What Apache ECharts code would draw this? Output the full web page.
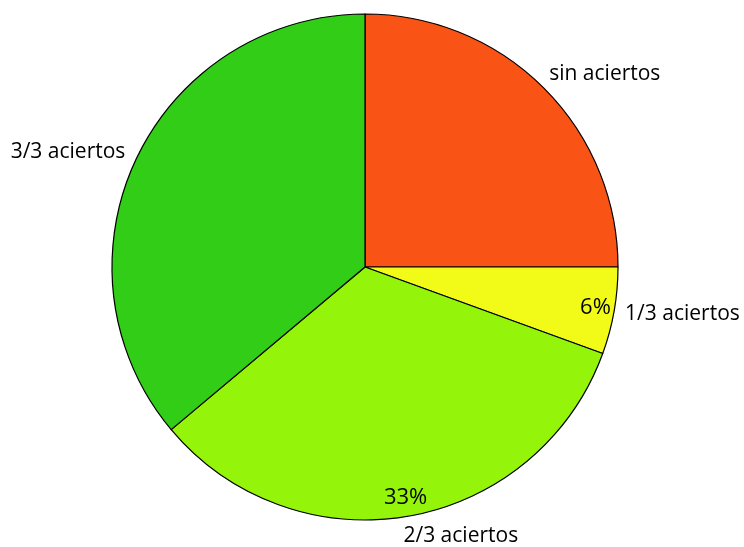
<!DOCTYPE html>
<html>
<head>
<meta charset="utf-8">
<script src="https://cdn.jsdelivr.net/npm/echarts@6/dist/echarts.min.js"></script>
<style>
html,body{margin:0;padding:0;background:#fff;}
#chart{width:744px;height:547px;}
</style>
</head>
<body>
<div id="chart"></div>
<script>
// Data (counts of answers)
var categories = ['sin aciertos', '1/3 aciertos', '2/3 aciertos', '3/3 aciertos'];
var counts = [9, 2, 12, 13];
var showPercent = [false, true, true, false];
var colors = ['#F95316', '#F1FB17', '#94F50B', '#31CD17'];

var CX = 365, CY = 267, R = 253;
var total = counts.reduce(function (a, b) { return a + b; }, 0);
function midAngle(i) {
  var s = 0;
  for (var k = 0; k < i; k++) s += counts[k];
  return (s + counts[i] / 2) / total * 2 * Math.PI;
}

var data = categories.map(function (c, i) {
  return { name: c, value: counts[i], itemStyle: { color: colors[i] } };
});
var pctData = categories.map(function (c, i) {
  return { name: c, value: counts[i], label: { show: showPercent[i] } };
});

var font = 'Open Sans';
var chart = echarts.init(document.getElementById('chart'), null, { renderer: 'canvas' });
chart.setOption({
  backgroundColor: '#ffffff',
  animation: false,
  series: [
    {
      type: 'pie',
      center: [CX, CY],
      radius: [0, R],
      startAngle: 90,
      clockwise: true,
      silent: true,
      data: data,
      itemStyle: { borderColor: '#000', borderWidth: 1.2 },
      label: {
        show: true,
        position: 'outside',
        formatter: '{b}',
        color: '#000',
        fontFamily: font,
        fontSize: 21,
        overflow: 'none',
        width: 200
      },
      labelLine: { show: false },
      labelLayout: function (p) {
        var a = midAngle(p.dataIndex);
        var s = Math.sin(a), c = Math.cos(a);
        var x = CX + 1.08 * R * s;
        var y = CY - 1.08 * R * c;
        if (s >= 0) {
          return { x: x - 9, y: y, align: 'left', verticalAlign: 'middle' };
        }
        return { x: x + 8, y: y, align: 'right', verticalAlign: 'middle' };
      }
    },
    {
      type: 'pie',
      center: [CX, CY],
      radius: [0, R],
      startAngle: 90,
      clockwise: true,
      silent: true,
      data: pctData,
      itemStyle: { color: 'rgba(0,0,0,0)', borderWidth: 0 },
      label: {
        show: true,
        position: 'inside',
        formatter: function (p) { return Math.round(p.value / total * 100) + '%'; },
        color: '#000',
        fontFamily: font,
        fontSize: 22,
        overflow: 'none'
      },
      labelLine: { show: false },
      labelLayout: function (p) {
        var a = midAngle(p.dataIndex);
        var x = CX + 0.925 * R * Math.sin(a);
        var y = CY - 0.925 * R * Math.cos(a);
        return { x: x, y: y, align: 'center', verticalAlign: 'middle' };
      }
    }
  ]
});
</script>
</body>
</html>
